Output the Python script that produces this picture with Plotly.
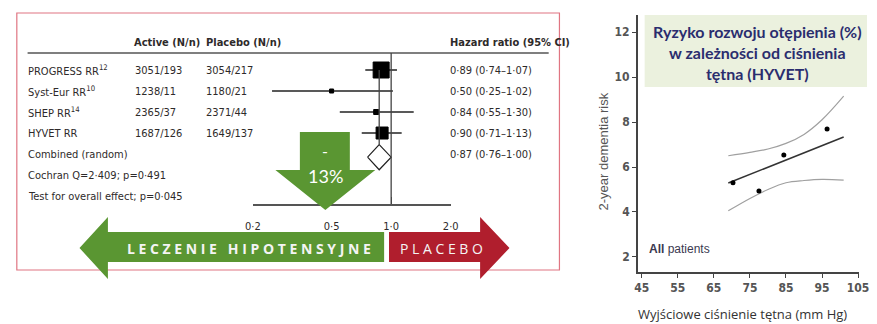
import math
import plotly.graph_objects as go

W, H = 877, 324

# ---------------- meta-analysis (forest plot) ----------------
studies = ["PROGRESS RR<sup>12</sup>", "Syst-Eur RR<sup>10</sup>", "SHEP RR<sup>14</sup>", "HYVET RR"]
active = ["3051/193", "1238/11", "2365/37", "1687/126"]
placebo = ["3054/217", "1180/21", "2371/44", "1649/137"]
hr = [0.89, 0.50, 0.84, 0.90]
hr_lo = [0.74, 0.25, 0.55, 0.71]
hr_hi = [1.07, 1.02, 1.30, 1.13]
pooled_label = "Combined (random)"
pooled_hr, pooled_lo, pooled_hi = 0.87, 0.76, 1.00
heterogeneity = "Cochran Q=2·409; p=0·491"
overall_test = "Test for overall effect; p=0·045"
hr_ticks = [0.2, 0.5, 1.0, 2.0]
hr_tick_labels = ["0·2", "0·5", "1·0", "2·0"]
reduction_label = "13%"

# ---------------- HYVET: dementia risk vs pulse pressure ----------------
pp_x = [70.3, 77.5, 84.4, 96.4]
risk_y = [5.3, 4.93, 6.53, 7.69]
fit_x = [69, 101]
fit_y = [5.29, 7.33]
band_x = [69, 75, 80, 85, 90, 95, 101]
band_upper = [6.5, 6.65, 6.8, 7.05, 7.45, 8.1, 9.15]
band_lower = [4.05, 4.6, 5.0, 5.3, 5.4, 5.45, 5.42]
x_ticks = [45, 55, 65, 75, 85, 95, 105]
y_ticks = [2, 4, 6, 8, 10, 12]

# ---------------- styling ----------------
NARROW = "Liberation Sans Narrow, DejaVu Sans Condensed, Roboto Condensed, Roboto, sans-serif"
TXT = "#2e2a2a"
GREEN = "#5a9632"
RED = "#b01e2d"
NAVY = "#2a2d6e"
box_px = [16, 4, 5, 12]          # square sizes (study weights)
diamond_row, diamond_half = 4.15, 0.6


def fx(x):
    return x / W


def fy(y):
    return 1 - y / H


def poly(points):
    return "M " + " L ".join(f"{fx(x):.5f},{fy(y):.5f}" for x, y in points) + " Z"


def dot(v):
    return f"{v:.2f}".replace(".", "·")


fig = go.Figure()

# confidence-interval whiskers
wx, wy = [], []
for i, (lo, hi) in enumerate(zip(hr_lo, hr_hi)):
    wx += [lo, hi, None]
    wy += [i, i, None]
fig.add_trace(go.Scatter(x=wx, y=wy, mode="lines", line=dict(color="#222", width=1.3),
                         xaxis="x", yaxis="y", hoverinfo="skip"))
# study point estimates
fig.add_trace(go.Scatter(x=hr, y=list(range(len(hr))), mode="markers",
                         marker=dict(symbol="square", size=box_px, color="#000", opacity=1,
                                     line=dict(width=1, color="#000")),
                         xaxis="x", yaxis="y"))
# pooled estimate diamond
fig.add_trace(go.Scatter(
    x=[pooled_lo, pooled_hr, pooled_hi, pooled_hr, pooled_lo],
    y=[diamond_row, diamond_row - diamond_half, diamond_row,
       diamond_row + diamond_half, diamond_row],
    mode="lines", fill="toself", fillcolor="white",
    line=dict(color="#222", width=1.2), xaxis="x", yaxis="y"))

# pulse-pressure panel
fig.add_trace(go.Scatter(x=band_x, y=band_upper, mode="lines", line=dict(color="#a0a0a0", width=1.2, shape="spline"),
                         xaxis="x2", yaxis="y2"))
fig.add_trace(go.Scatter(x=band_x, y=band_lower, mode="lines", line=dict(color="#a0a0a0", width=1.2, shape="spline"),
                         xaxis="x2", yaxis="y2"))
fig.add_trace(go.Scatter(x=fit_x, y=fit_y, mode="lines", line=dict(color="#333", width=1.6),
                         xaxis="x2", yaxis="y2"))
fig.add_trace(go.Scatter(x=pp_x, y=risk_y, mode="markers", marker=dict(color="#000", size=5),
                         xaxis="x2", yaxis="y2"))

shapes = [
    # panel frame
    dict(type="rect", xref="paper", yref="paper", x0=fx(9), x1=fx(563), y0=fy(270), y1=fy(13),
         line=dict(color="#e07582", width=1.2), layer="below"),
    # header rule
    dict(type="line", xref="paper", yref="paper", x0=fx(20), x1=fx(552), y0=fy(53), y1=fy(53),
         line=dict(color="#555", width=1.5)),
    # line of no effect
    dict(type="line", xref="x", yref="y domain", x0=1, x1=1, y0=0, y1=1,
         line=dict(color="#444", width=1.3)),
    # pooled estimate reference
    dict(type="line", xref="x", yref="y", x0=pooled_hr, x1=pooled_hr, y0=0,
         y1=diamond_row - diamond_half, line=dict(color="#444", width=1.3)),
    # down arrow
    dict(type="path", xref="paper", yref="paper",
         path=poly([(298, 132), (349, 132), (349, 170), (375, 170), (324, 210),
                    (273, 170), (298, 170)]),
         fillcolor=GREEN, line=dict(width=0)),
    # treatment / placebo arrows
    dict(type="path", xref="paper", yref="paper",
         path=poly([(73, 248), (102, 217), (102, 232), (384, 232), (384, 262),
                    (102, 262), (102, 279)]),
         fillcolor=GREEN, line=dict(width=0)),
    dict(type="path", xref="paper", yref="paper",
         path=poly([(389, 232), (482, 232), (482, 217), (512, 248), (482, 279),
                    (482, 262), (389, 262)]),
         fillcolor=RED, line=dict(width=0)),
    # title box of the right panel
    dict(type="rect", xref="paper", yref="paper", x0=fx(650), x1=1, y0=fy(87), y1=fy(15),
         fillcolor="#ebf1de", line=dict(width=0), layer="below"),
]

ann = []


def txt(x, y, s, size=11, color=TXT, anchor="left", family=NARROW, yref="paper", **kw):
    ann.append(dict(x=x, y=y, xref="paper", yref=yref, text=s, showarrow=False,
                    xanchor=anchor, yanchor="middle",
                    font=dict(family=family, size=size, color=color), **kw))


# table header
txt(fx(127), fy(42), "<b>Active (N/n)</b>")
txt(fx(200), fy(42), "<b>Placebo (N/n)</b>")
txt(fx(449), fy(42), "<b>Hazard ratio (95% CI)</b>")

# study rows
for i, name in enumerate(studies):
    txt(fx(18), i, name, yref="y")
    txt(fx(128), i, active[i], yref="y")
    txt(fx(200), i, placebo[i], yref="y")
    txt(fx(449), i, f"{dot(hr[i])} ({dot(hr_lo[i])}–{dot(hr_hi[i])})", yref="y")
txt(fx(18), 4, pooled_label, yref="y")
txt(fx(449), 4, f"{dot(pooled_hr)} ({dot(pooled_lo)}–{dot(pooled_hi)})", yref="y")
txt(fx(18), 5, heterogeneity, yref="y")
txt(fx(18), 6, overall_test, yref="y")

# arrow labels
txt(fx(324), fy(150), "-", size=16, color="white", anchor="center", family="Lato, sans-serif")
txt(fx(324), fy(176), reduction_label, size=18, color="white", anchor="center", family="Lato, sans-serif")
txt(fx(246), fy(248), "<b>L E C Z E N I E   H I P O T E N S Y J N E</b>", size=14, color="#f4f4f4",
    anchor="center", family="Open Sans, sans-serif")
txt(fx(443), fy(248), "P L A C E B O", size=14, color="#f4f4f4", anchor="center",
    family="Open Sans, sans-serif")

# right panel text
txt(fx(765), fy(52), "<b>Ryzyko rozwoju otępienia (%)<br>w zależności od ciśnienia<br>tętna (HYVET)</b>",
    size=16, color=NAVY, anchor="center", family="Lato, sans-serif")
txt(fx(652), fy(249), "<b>All</b> patients", size=12, color="#3b3950",
    family="Liberation Sans, Arial, sans-serif")
txt(fx(607), fy(152), "2-year dementia risk", size=13, color="#555", anchor="center",
    family="Liberation Sans, Arial, sans-serif", textangle=-90)
txt(fx(750), fy(314), "Wyjściowe ciśnienie tętna (mm Hg)", size=13, color="#333", anchor="center",
    family="Open Sans, sans-serif")

axis_font = dict(family=NARROW, size=12, color="#555", weight="bold")

fig.update_layout(
    width=W, height=H, margin=dict(l=0, r=0, t=0, b=0),
    paper_bgcolor="white", plot_bgcolor="rgba(0,0,0,0)", showlegend=False,
    shapes=shapes, annotations=ann,
    xaxis=dict(domain=[fx(250), fx(452)], type="log",
               range=[math.log10(hr_ticks[0]), math.log10(hr_ticks[-1])],
               tickvals=hr_ticks, ticktext=hr_tick_labels, ticks="inside", ticklen=7,
               tickcolor="#555", tickwidth=1.3, showline=True, linecolor="#555", linewidth=1.5,
               showgrid=False, zeroline=False, ticklabelstandoff=11,
               tickfont=dict(family=NARROW, size=11, color=TXT), anchor="y"),
    yaxis=dict(domain=[fy(204), fy(53)], range=[6.38, -0.81], visible=False, anchor="x"),
    xaxis2=dict(domain=[fx(643), fx(869)], range=[43.9, 105.3], anchor="y2",
                tickvals=x_ticks, ticks="outside", ticklen=4, tickcolor="#444",
                showline=True, linecolor="#444", linewidth=1.5, showgrid=False, zeroline=False,
                tickfont=axis_font),
    yaxis2=dict(domain=[fy(272), fy(15)], range=[1.33, 12.76], anchor="x2",
                tickvals=y_ticks, ticks="outside", ticklen=4, tickcolor="#444",
                showline=True, linecolor="#444", linewidth=1.5, showgrid=False, zeroline=False,
                tickfont=axis_font),
)

fig.write_html("out.html")
